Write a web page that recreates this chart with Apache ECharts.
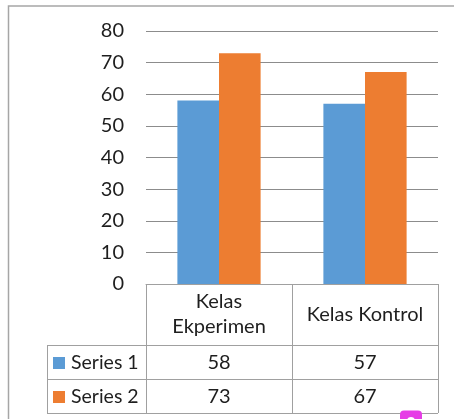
<!DOCTYPE html>
<html>
<head>
<meta charset="utf-8">
<script src="https://cdn.jsdelivr.net/npm/echarts@6/dist/echarts.min.js"></script>
<style>
html,body{margin:0;padding:0;background:#fff;}
#c{width:454px;height:419px;}
</style>
</head>
<body>
<div id="c"></div>
<script>
const categories = ['Kelas\nEkperimen', 'Kelas Kontrol'];
const seriesNames = ['Series 1', 'Series 2'];
const series1 = [58, 57];
const series2 = [73, 67];
const yMin = 0, yMax = 80, yInterval = 10;
const colors = ['#5B9BD5', '#ED7D31'];

const FONT = 'Lato';
const TXT = '#1e1e1e';
const GRID_LINE = '#8c8c8c';
const TABLE_LINE = '#a0a0a0';
const FS = 20;
const FS_LEG = 19.5;

const gridLeft = 146, gridRight = 438, gridTop = 31, gridBottomY = 284;
const headerBottom = 345, row1Bottom = 379, row2Bottom = 413, legendLeft = 47;

const chart = echarts.init(document.getElementById('c'), null, {renderer: 'canvas'});

chart.setOption({
  animation: false,
  backgroundColor: '#fff',
  grid: {left: gridLeft, right: 454 - gridRight, top: gridTop, bottom: 419 - gridBottomY, containLabel: false},
  xAxis: {
    type: 'category',
    data: categories,
    axisLine: {show: true, lineStyle: {color: TABLE_LINE, width: 1}},
    axisTick: {show: true, length: headerBottom - gridBottomY, lineStyle: {color: TABLE_LINE}, interval: 0},
    axisLabel: {
      interval: 0, color: TXT, fontFamily: FONT, fontSize: FS, lineHeight: 25,
      margin: (headerBottom - gridBottomY) / 2,
      verticalAlign: 'middle'
    }
  },
  yAxis: {
    type: 'value',
    min: yMin, max: yMax, interval: yInterval,
    axisLine: {show: false},
    axisTick: {show: false},
    splitLine: {lineStyle: {color: GRID_LINE, width: 1}},
    axisLabel: {color: TXT, fontFamily: FONT, fontSize: FS, margin: 22}
  },
  series: [
    {name: seriesNames[0], type: 'bar', data: series1, barGap: '0%', barCategoryGap: '43%', itemStyle: {color: colors[0]}},
    {name: seriesNames[1], type: 'bar', data: series2, barGap: '0%', barCategoryGap: '43%', itemStyle: {color: colors[1]}}
  ]
});

// Build data table rows from arrays
const rows = [series1, series2];
const rowTops = [headerBottom, row1Bottom];
const rowBottoms = [row1Bottom, row2Bottom];
const elements = [];
const line = (x1, y1, x2, y2) => ({type: 'line', silent: true, shape: {x1, y1, x2, y2}, style: {stroke: TABLE_LINE, lineWidth: 1}});

[headerBottom, row1Bottom, row2Bottom].forEach(y => elements.push(line(legendLeft, y + 0.5, gridRight, y + 0.5)));
elements.push(line(legendLeft + 0.5, headerBottom, legendLeft + 0.5, row2Bottom));
const catCount = categories.length;
for (let i = 0; i <= catCount; i++) {
  const x = gridLeft + (gridRight - gridLeft) * i / catCount;
  elements.push(line(Math.round(x) + 0.5, headerBottom, Math.round(x) + 0.5, row2Bottom));
}

rows.forEach((vals, r) => {
  const cy = (rowTops[r] + rowBottoms[r]) / 2 + 1;
  elements.push({type: 'rect', silent: true, shape: {x: 53, y: cy - 6, width: 12, height: 12}, style: {fill: colors[r]}});
  elements.push({type: 'text', silent: true, x: 71, y: cy, style: {text: seriesNames[r], font: FS_LEG + 'px ' + FONT, fill: TXT, textAlign: 'left', textVerticalAlign: 'middle'}});
  vals.forEach((v, i) => {
    const cx = chart.convertToPixel({xAxisIndex: 0}, i);
    elements.push({type: 'text', silent: true, x: cx, y: cy, style: {text: String(v), font: FS + 'px ' + FONT, fill: TXT, textAlign: 'center', textVerticalAlign: 'middle'}});
  });
});

elements.push({type: 'rect', silent: true, shape: {x: 8.5, y: 6, width: 470, height: 440}, style: {fill: 'none', stroke: '#a6a6a6', lineWidth: 1.5}});
elements.push({type: 'rect', silent: true, shape: {x: 400, y: 410.5, width: 22, height: 14, r: 4}, style: {fill: '#e63ce6'}});
elements.push({type: 'circle', silent: true, shape: {cx: 411, cy: 421, r: 4}, style: {fill: '#fff'}});

chart.setOption({graphic: {elements}});
</script>
</body>
</html>
